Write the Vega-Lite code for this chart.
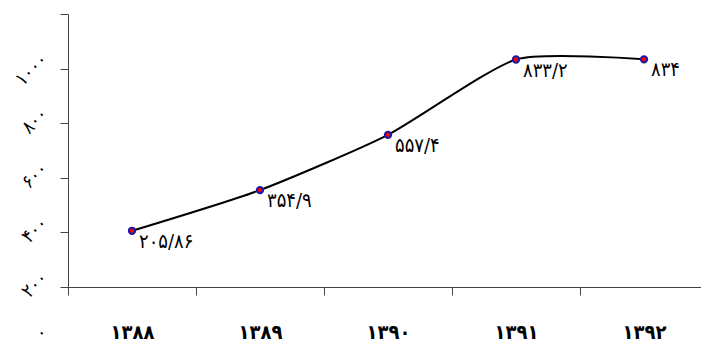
{
  "$schema": "https://vega.github.io/schema/vega-lite/v6.json",
  "autosize": {"type": "none"},
  "padding": {"left": 68, "top": 14, "right": 0, "bottom": 58},
  "width": 640,
  "height": 273,
  "background": "white",
  "config": {"view": {"stroke": null}, "font": "DejaVu Sans Condensed, DejaVu Sans"},
  "data": {
    "values": [
      {"year": "۱۳۸۸", "value": 205.86, "label": "۲۰۵/۸۶"},
      {"year": "۱۳۸۹", "value": 354.9, "label": "۳۵۴/۹"},
      {"year": "۱۳۹۰", "value": 557.4, "label": "۵۵۷/۴"},
      {"year": "۱۳۹۱", "value": 833.2, "label": "۸۳۳/۲"},
      {"year": "۱۳۹۲", "value": 834, "label": "۸۳۴"}
    ]
  },
  "encoding": {
    "x": {
      "field": "year", "type": "nominal", "sort": null,
      "scale": {"paddingInner": 0, "paddingOuter": 0},
      "axis": {
        "title": null, "labelAngle": 0, "tickBand": "extent", "tickSize": 8,
        "domainColor": "#444", "tickColor": "#444", "labelColor": "#000",
        "labelFontSize": 20, "labelFontWeight": "bold", "labelPadding": 27,
        "labelFont": "DejaVu Sans Condensed, DejaVu Sans", "grid": false
      }
    },
    "y": {
      "field": "value", "type": "quantitative",
      "scale": {"domain": [0, 1000], "nice": false},
      "axis": {
        "title": null, "values": [0, 200, 400, 600, 800, 1000], "tickSize": 8,
        "domainColor": "#444", "tickColor": "#444", "labelColor": "#000",
        "labelFontSize": 19, "labelAngle": -45, "labelAlign": "right", "labelBaseline": "middle",
        "labelOffset": 42, "labelPadding": 16, "grid": false,
        "labelFont": "DejaVu Sans Condensed, DejaVu Sans",
        "labelExpr": "datum.value == 0 ? '۰' : datum.value == 200 ? '۲۰۰' : datum.value == 400 ? '۴۰۰' : datum.value == 600 ? '۶۰۰' : datum.value == 800 ? '۸۰۰' : '۱۰۰۰'"
      }
    }
  },
  "layer": [
    {"mark": {"type": "line", "color": "black", "strokeWidth": 2, "interpolate": "cardinal", "tension": 0.4}},
    {"mark": {"type": "point", "shape": "circle", "filled": false, "fill": "#ff0000", "stroke": "#1a1aa6", "strokeWidth": 2, "size": 40, "opacity": 1}},
    {"mark": {"type": "text", "align": "left", "baseline": "middle", "dx": 7, "dy": 11, "fontSize": 20, "color": "#000", "font": "DejaVu Sans Condensed, DejaVu Sans"},
     "encoding": {"text": {"field": "label"}}}
  ]
}
